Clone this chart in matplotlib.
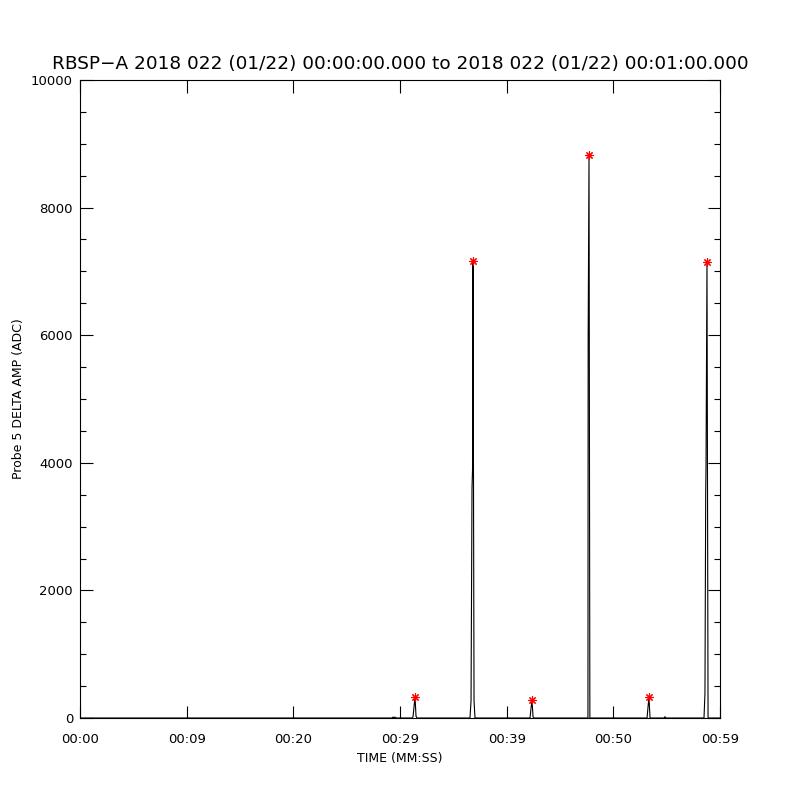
import numpy as np
import matplotlib
matplotlib.use('Agg')
import matplotlib.pyplot as plt
from matplotlib.ticker import MultipleLocator

# sample times (s) and probe amplitude (ADC)
t_sec = [0.0, 29.25, 29.34, 29.44, 29.53, 29.63,
         31.13, 31.22, 31.31, 31.41, 31.50, 31.59,
         36.56, 36.66, 36.75, 36.80, 36.84, 36.94, 37.03,
         42.19, 42.28, 42.38, 42.47, 42.56,
         47.62, 47.64, 47.72, 47.80,
         53.16, 53.25, 53.34, 53.44,
         54.75, 54.84, 54.94,
         58.50, 58.59, 58.66, 58.69, 58.78, 58.88, 60.0]
amp = [0, 0, 15, 0, 15, 0,
       0, 20, 170, 330, 30, 0,
       0, 270, 3600, 3900, 7170, 270, 0,
       0, 150, 280, 20, 0,
       0, 5970, 8820, 0,
       0, 170, 330, 0,
       0, 20, 0,
       0, 390, 3530, 3960, 7150, 0, 0]

# detected peaks (red asterisks)
peak_t = [31.41, 36.84, 42.38, 47.72, 53.34, 58.78]
peak_amp = [330, 7170, 280, 8820, 330, 7150]

xticks = [0, 10, 20, 30, 40, 50, 60]
xticklabels = ['00:00', '00:09', '00:20', '00:29', '00:39', '00:50', '00:59']

title = 'RBSP\u2212A 2018 022 (01/22) 00:00:00.000 to 2018 022 (01/22) 00:01:00.000'

fig = plt.figure(figsize=(8, 8), dpi=100)
ax = fig.add_axes([0.1, 0.1025, 0.8, 0.7975])

ax.plot(t_sec, amp, color='black', linewidth=0.8)
ax.plot(peak_t, peak_amp, linestyle='none', marker=(8, 2, 0),
        markersize=6, color='red', markeredgewidth=0.8)

ax.set_xlim(0, 60)
ax.set_ylim(0, 10000)
ax.set_xticks(xticks)
ax.set_xticklabels(xticklabels)
ax.yaxis.set_major_locator(MultipleLocator(2000))
ax.yaxis.set_minor_locator(MultipleLocator(500))

ax.tick_params(axis='both', which='both', direction='in', top=True,
               right=True, width=0.8, labelsize=9.5)
ax.tick_params(axis='both', which='major', length=9)
ax.tick_params(axis='y', which='minor', length=4.5)
ax.tick_params(axis='x', which='major', pad=11)
ax.tick_params(axis='y', which='major', pad=5)
for sp in ax.spines.values():
    sp.set_linewidth(0.8)

ax.set_title(title, fontsize=13.3, pad=8)
ax.set_xlabel('TIME (MM:SS)', fontsize=9, labelpad=4)
ax.set_ylabel('Probe 5 DELTA AMP (ADC)', fontsize=9, labelpad=4)

fig.savefig('out.png', dpi=100)
